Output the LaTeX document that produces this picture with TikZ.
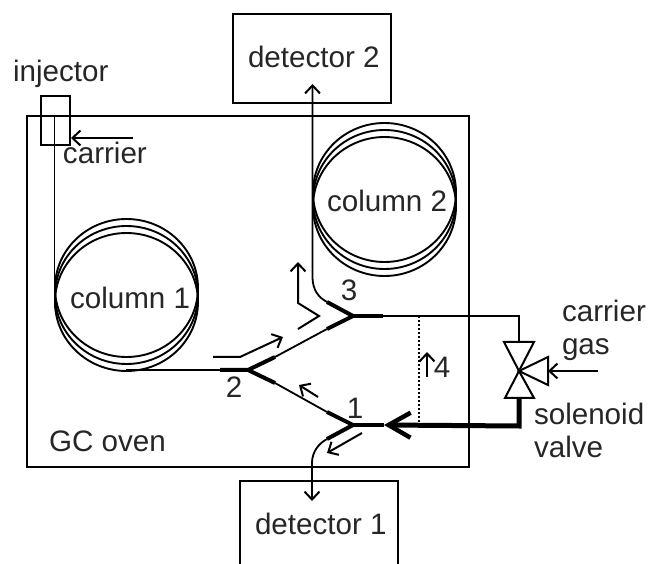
\documentclass[tikz,border=0pt]{standalone}
\usepackage{fontspec}
\setmainfont{Liberation Sans}
\usetikzlibrary{arrows.meta}
\begin{document}
\begin{tikzpicture}[x=1pt,y=-1pt,
  line width=2pt,
  every node/.style={font=\fontsize{29.6}{32}\selectfont,inner sep=0pt,outer sep=0pt,text=black!85},
  lab/.style={anchor=base west},
  num/.style={anchor=base},
  thin tube/.style={line width=1.8pt},
  thick tube/.style={line width=4pt},
  flow/.style={line width=2pt,-{Straight Barb[length=8pt,width=15pt,line width=2pt]}},
  coil/.style={line width=1.9pt},
  box/.style={draw,line width=2pt}
]
\useasboundingbox (0,0) rectangle (649,564);
% coordinates
\coordinate (ovenNW) at (27,116);
\coordinate (ovenSE) at (469,467);
\coordinate (injNW) at (41,96);
\coordinate (injSE) at (70,145);
\coordinate (injTube) at (54.5,116);
\coordinate (carrStart) at (133,138);
\coordinate (carrEnd) at (71,138);
\coordinate (J1) at (353,425);
\coordinate (J2) at (248,370);
\coordinate (J3) at (353,316);
\coordinate (J1r) at (384,425);
\coordinate (J2l) at (220,370);
\coordinate (J3r) at (383,316);
\coordinate (a23) at (275,357);
\coordinate (b23) at (327,329);
\coordinate (a21) at (275,383);
\coordinate (b21) at (327,412);
\coordinate (c3) at (327,302);
\coordinate (c1) at (327,439);
\coordinate (vC) at (519,371);
\coordinate (vT) at (519,342);
\coordinate (vB) at (519,398);
\coordinate (vR) at (548,371);
\coordinate (gasStart) at (598,371);
% oven, injector
\draw[box] (ovenNW) rectangle (ovenSE);
\draw[box] (injNW) rectangle (injSE);
\draw[flow] (carrStart) -- (carrEnd);
% columns
\foreach \cy in {288,295,302}{\draw[coil] (126.5,\cy) ellipse [x radius=71.5,y radius=69];}
\foreach \cy in {192.5,199.5,206.5}{\draw[coil] (384.5,\cy) ellipse [x radius=71.5,y radius=69.5];}
% tubes
\draw[thin tube] (injTube) -- (54.5,308);
\draw[thin tube] (126,370) -- (J2l);
\draw[thin tube] (a23) -- (b23);
\draw[thin tube] (a21) -- (b21);
\draw[thick tube,line cap=butt] (J2l) -- (J2) -- (a23);
\draw[thick tube] (J2) -- (a21);
\draw[thick tube,line join=miter] (b23) -- (J3) -- (c3);
\draw[thick tube] (J3) -- (J3r);
\draw[thick tube,line join=miter] (b21) -- (J1) -- (c1);
\draw[thick tube] (J1) -- (J1r);
\draw[thin tube,-{Straight Barb[length=8pt,width=15pt,line width=2pt]}] (c3) .. controls (318,297) and (313,290) .. (312.5,278) -- (312.5,84);
\draw[thin tube,-{Straight Barb[length=8pt,width=15pt,line width=2pt]}] (c1) .. controls (318,444) and (312.5,452) .. (312,462) -- (312,501);
\draw[thin tube] (J3r) -- (519,316) -- (vT);
\draw[line width=1.8pt,dash pattern=on 2pt off 2pt] (419,316) -- (419,425);
\draw[line width=5pt,line join=miter,-{Straight Barb[length=22pt,width=25pt,line width=4.5pt]}] (vB) -- (519,426) -- (J1r);
% valve
\draw[line width=2pt,line join=miter] (vC) -- (504,342) -- (534,342) -- cycle;
\draw[line width=2pt,line join=miter] (vC) -- (505,398) -- (534,398) -- cycle;
\draw[line width=2pt,line join=miter] (vC) -- (548,357) -- (548,385) -- cycle;
\draw[flow] (gasStart) -- (vR);
% flow arrows
\draw[flow] (213,357) -- (240,357) -- (283,337);
\draw[flow] (318,397) -- (299,385);
\draw[flow] (298,329) -- (319,316) -- (298,303) -- (298,262);
\draw[flow] (362,433) -- (327,453);
\draw[flow] (427,377) -- (427,352);
% detectors
\node[box,minimum width=158pt,minimum height=89pt] (det2) at (312,58.5) {};
\node[lab] (det2t) at (248,68) {detector 2};
\draw[box] (240,564) -- (240,481) -- (398,481) -- (398,564);
\node[lab] (det1t) at (255,535) {detector 1};
% labels
\node[lab] (linj) at (13,82) {injector};
\node[lab] (lcar) at (63,164) {carrier};
\node[lab] (lc1) at (70,309) {column 1};
\node[lab] (lc2) at (327,212) {column 2};
\node[lab] (lgc) at (49,452) {GC oven};
\node[lab] (lcg1) at (562,322) {carrier};
\node[lab] (lcg2) at (562,355) {gas};
\node[lab] (lsv1) at (534,425) {solenoid};
\node[lab] (lsv2) at (534,457) {valve};
\node[num] (n1) at (355,419) {1};
\node[num] (n2) at (234,398) {2};
\node[num] (n3) at (349,301) {3};
\node[num] (n4) at (442,378) {4};
\end{tikzpicture}
\end{document}
